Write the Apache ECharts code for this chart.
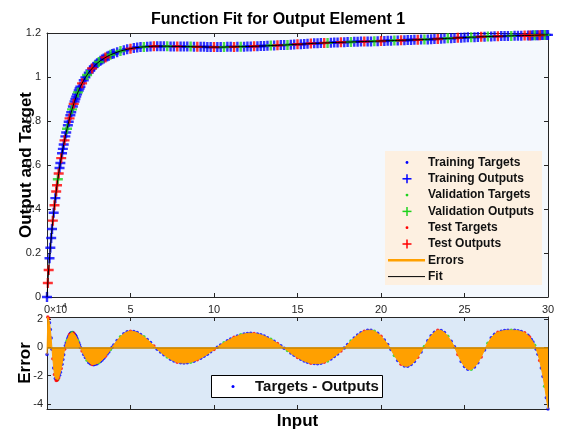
<!DOCTYPE html>
<html>
<head>
<meta charset="utf-8">
<script src="https://cdn.jsdelivr.net/npm/echarts@6/dist/echarts.min.js"></script>
<style>
html, body { margin: 0; padding: 0; background: #ffffff; }
#chart { width: 566px; height: 438px; }
</style>
</head>
<body>
<div id="chart"></div>
<script>
// Sample inputs (finer spacing where the response rises quickly)
const inputs = [
  0,0.05,0.1,0.15,0.2,0.25,0.3,0.35,0.4,0.45,0.5,0.55,0.6,0.65,0.7,0.75,0.8,0.85,0.9,0.95,
  1,1.05,1.1,1.15,1.2,1.25,1.3,1.35,1.4,1.45,1.5,1.55,1.6,1.65,1.7,1.75,1.8,1.85,1.9,1.95,2,
  2.1,2.2,2.3,2.4,2.5,2.6,2.7,2.8,2.9,3,3.1,3.2,3.3,3.4,3.5,3.6,3.7,3.8,3.9,4,
  4.2,4.4,4.6,4.8,5,5.2,5.4,5.6,5.8,6,
  6.2,6.4,6.6,6.8,7,7.2,7.4,7.6,7.8,8,
  8.2,8.4,8.6,8.8,9,9.2,9.4,9.6,9.8,10,
  10.2,10.4,10.6,10.8,11,11.2,11.4,11.6,11.8,12,
  12.2,12.4,12.6,12.8,13,13.2,13.4,13.6,13.8,14,
  14.2,14.4,14.6,14.8,15,15.2,15.4,15.6,15.8,16,
  16.2,16.4,16.6,16.8,17,17.2,17.4,17.6,17.8,18,
  18.2,18.4,18.6,18.8,19,19.2,19.4,19.6,19.8,20,
  20.2,20.4,20.6,20.8,21,21.2,21.4,21.6,21.8,22,
  22.2,22.4,22.6,22.8,23,23.2,23.4,23.6,23.8,24,
  24.2,24.4,24.6,24.8,25,25.2,25.4,25.6,25.8,26,
  26.2,26.4,26.6,26.8,27,27.2,27.4,27.6,27.8,28,
  28.2,28.4,28.6,
  28.8,28.9,29,29.1,29.2,29.3,29.4,29.5,29.6,29.7,29.8,29.9,30
];

// Target values at each input
const targets = [
  0,0.064,0.123,0.176,0.224,0.268,0.309,0.347,0.383,0.417,0.449,0.479,0.508,0.535,0.561,0.586,0.609,0.631,0.653,0.673,
  0.693,0.712,0.730,0.748,0.765,0.781,0.797,0.812,0.826,0.840,0.853,0.866,0.878,0.889,0.900,0.911,0.921,0.930,0.939,0.948,0.956,
  0.971,0.985,0.998,1.009,1.020,1.030,1.039,1.047,1.055,1.062,1.068,1.074,1.079,1.084,1.089,1.093,1.097,1.101,1.104,1.107,
  1.113,1.118,1.122,1.126,1.129,1.132,1.134,1.136,1.137,1.138,
  1.139,1.140,1.140,1.140,1.140,1.140,1.139,1.139,1.139,1.139,
  1.138,1.138,1.138,1.137,1.137,1.137,1.137,1.136,1.136,1.136,
  1.136,1.136,1.136,1.137,1.137,1.137,1.138,1.138,1.138,1.139,
  1.139,1.140,1.140,1.141,1.141,1.142,1.143,1.143,1.144,1.145,
  1.145,1.146,1.147,1.148,1.149,1.149,1.150,1.151,1.152,1.153,
  1.153,1.154,1.155,1.155,1.156,1.157,1.157,1.158,1.158,1.159,
  1.159,1.160,1.160,1.161,1.161,1.162,1.162,1.163,1.163,1.164,
  1.164,1.165,1.165,1.166,1.166,1.167,1.167,1.168,1.168,1.169,
  1.169,1.170,1.171,1.171,1.172,1.173,1.173,1.174,1.175,1.176,
  1.176,1.177,1.178,1.178,1.179,1.180,1.181,1.181,1.182,1.183,
  1.183,1.184,1.184,1.185,1.185,1.186,1.186,1.187,1.187,1.188,
  1.188,1.188,1.189,
  1.189,1.189,1.189,1.190,1.190,1.190,1.190,1.190,1.191,1.191,1.191,1.191,1.191
];

// Targets - Outputs, in units of 1e-4
const errorsE4 = [
  -0.50,2.15,2.04,1.74,1.26,0.66,-0.12,-0.80,-1.45,-1.92,-2.20,-2.33,-2.32,-2.26,-2.14,-1.97,-1.75,-1.48,-1.19,-0.86,
  -0.51,-0.12,0.12,0.31,0.48,0.65,0.79,0.91,0.99,1.04,1.06,1.05,1.01,0.94,0.86,0.75,0.62,0.48,0.33,0.17,0.00,
  -0.25,-0.50,-0.72,-0.91,-1.06,-1.16,-1.21,-1.22,-1.19,-1.15,-1.08,-0.99,-0.89,-0.76,-0.62,-0.47,-0.32,-0.15,0.01,0.18,
  0.49,0.76,0.97,1.10,1.15,1.12,1.05,0.92,0.76,0.56,
  0.34,0.10,-0.12,-0.32,-0.51,-0.68,-0.83,-0.95,-1.04,-1.09,
  -1.10,-1.08,-1.04,-0.97,-0.87,-0.76,-0.62,-0.48,-0.31,-0.15,
  0.02,0.18,0.33,0.47,0.60,0.72,0.81,0.89,0.95,0.99,
  1.00,0.99,0.95,0.89,0.80,0.69,0.57,0.43,0.28,0.12,
  -0.05,-0.22,-0.40,-0.56,-0.71,-0.84,-0.96,-1.04,-1.11,-1.14,
  -1.15,-1.12,-1.05,-0.95,-0.81,-0.64,-0.46,-0.26,-0.04,0.20,
  0.45,0.67,0.87,1.03,1.14,1.21,1.22,1.15,1.00,0.79,
  0.52,0.21,-0.15,-0.57,-0.92,-1.19,-1.32,-1.33,-1.21,-0.99,
  -0.69,-0.33,0.06,0.47,0.82,1.08,1.21,1.20,1.05,0.79,
  0.44,0.04,-0.50,-0.99,-1.35,-1.55,-1.55,-1.39,-1.08,-0.67,
  -0.18,0.30,0.68,0.93,1.07,1.15,1.19,1.21,1.22,1.21,
  1.18,1.12,1.03,
  0.86,0.73,0.56,0.38,0.15,-0.12,-0.48,-0.92,-1.45,-2.05,-2.75,-3.55,-4.35
];

// Data division of each sample: T = training, V = validation, S = test
const subsets =
  "TSSTTTTSTSTSSVSTTSTTTSTTVTTSTTVTSTTTTVTTT" +
  "STTVTTSTTTVTTTSTTVTT" +
  "TVTTSTTTVTTSTTTVTTSTTTVTSTTTTSTTVTTSTVTTTSTTTTVTSTTVTTSTTTSTTTSVTTTSTTVTTTSTTVTSTTTVTSTTTTSTVTTTSTTVTTSTTTVTTSTVTTSTTTVTTTS" +
  "TSTTVTTSTTVTT";

const xTicks = [0, 5, 10, 15, 20, 25, 30];
const outputTicks = [0, 0.2, 0.4, 0.6, 0.8, 1, 1.2];
const errorTicks = [-4, -2, 0, 2];

const FONT = '"Liberation Sans", Arial, Helvetica, sans-serif';
const AXIS_COLOR = '#262626';
const BLUE = '#0000FF', GREEN = '#1ED21E', RED = '#FF0000', ORANGE = '#FFA000';
// Filled plus sign used for the network outputs
const PLUS = 'path://M3.8,0h2.4v3.8h3.8v2.4h-3.8v3.8h-2.4v-3.8h-3.8v-2.4h3.8z';

const n = Math.min(inputs.length, targets.length, errorsE4.length, subsets.length);
// Outputs follow from Error = Targets - Outputs
const outputs = targets.map((t, i) => t - errorsE4[i] * 1e-4);

function pick(code, values) {
  const out = [];
  for (let i = 0; i < n; i++) if (subsets[i] === code) out.push([inputs[i], values[i]]);
  return out;
}
const allPairs = (values) => inputs.slice(0, n).map((x, i) => [x, values[i]]);

const errMin = Math.min(...errorsE4.slice(0, n));
const errMax = Math.max(...errorsE4.slice(0, n));

const tickStyle = { show: true, inside: true, length: 4, lineStyle: { color: AXIS_COLOR, width: 1 } };
const lineStyle = { show: true, onZero: false, lineStyle: { color: AXIS_COLOR, width: 1 } };
const labelStyle = { color: AXIS_COLOR, fontSize: 11, fontFamily: FONT };
const nameStyle = { color: '#000', fontSize: 17, fontWeight: 'bold', fontFamily: FONT };

function xAxisFor(grid, position, showLabels, name) {
  return {
    type: 'value', gridIndex: grid, position: position, min: 0, max: 30, interval: 5,
    axisLine: lineStyle, axisTick: tickStyle, splitLine: { show: false },
    axisLabel: Object.assign({ show: showLabels, margin: 7 }, labelStyle),
    name: name || '', nameLocation: 'middle', nameGap: 4, nameMoveOverlap: false, nameTextStyle: nameStyle
  };
}

const chart = echarts.init(document.getElementById('chart'), null, { renderer: 'canvas' });

const option = {
  animation: false,
  backgroundColor: '#ffffff',
  title: {
    text: 'Function Fit for Output Element 1',
    left: 273, top: 7, textAlign: 'center',
    textStyle: { fontSize: 16, fontWeight: 'bold', color: '#000', fontFamily: FONT }
  },
  grid: [
    { left: 47, top: 33, width: 501, height: 264, show: true, backgroundColor: '#F4F8FD', borderWidth: 0,
      containLabel: false, outerBoundsMode: 'none' },
    { left: 47, top: 317, width: 501, height: 92, show: true, backgroundColor: '#DCE9F7', borderWidth: 0,
      containLabel: false, outerBoundsMode: 'none' }
  ],
  xAxis: [
    xAxisFor(0, 'bottom', true),
    xAxisFor(0, 'top', false),
    xAxisFor(1, 'bottom', false, 'Input'),
    xAxisFor(1, 'top', false)
  ],
  yAxis: [
    {
      type: 'value', gridIndex: 0, position: 'left', min: 0, max: 1.2, interval: 0.2,
      axisLine: lineStyle, axisTick: tickStyle, splitLine: { show: false },
      axisLabel: Object.assign({ margin: 6 }, labelStyle),
      name: 'Output and Target', nameLocation: 'middle', nameGap: 12, nameMoveOverlap: false, nameTextStyle: nameStyle
    },
    {
      type: 'value', gridIndex: 0, position: 'right', min: 0, max: 1.2, interval: 0.2,
      axisLine: lineStyle, axisTick: tickStyle, splitLine: { show: false }, axisLabel: { show: false }
    },
    {
      type: 'value', gridIndex: 1, position: 'left', min: errMin, max: errMax,
      axisLine: lineStyle, splitLine: { show: false },
      axisTick: Object.assign({ customValues: errorTicks }, tickStyle),
      axisLabel: Object.assign({ margin: 4, customValues: errorTicks }, labelStyle),
      name: 'Error', nameLocation: 'middle', nameGap: 13, nameMoveOverlap: false, nameTextStyle: nameStyle
    },
    {
      type: 'value', gridIndex: 1, position: 'right', min: errMin, max: errMax,
      axisLine: lineStyle, splitLine: { show: false },
      axisTick: Object.assign({ customValues: errorTicks }, tickStyle),
      axisLabel: { show: false }
    }
  ],
  series: [
    { name: 'Training Targets', type: 'scatter', xAxisIndex: 0, yAxisIndex: 0, symbol: 'circle', symbolSize: 3,
      itemStyle: { color: BLUE }, data: pick('T', targets) },
    { name: 'Training Outputs', type: 'scatter', xAxisIndex: 0, yAxisIndex: 0, symbol: PLUS, symbolSize: 10,
      itemStyle: { color: BLUE }, data: pick('T', outputs) },
    { name: 'Validation Targets', type: 'scatter', xAxisIndex: 0, yAxisIndex: 0, symbol: 'circle', symbolSize: 3,
      itemStyle: { color: GREEN }, data: pick('V', targets) },
    { name: 'Validation Outputs', type: 'scatter', xAxisIndex: 0, yAxisIndex: 0, symbol: PLUS, symbolSize: 10,
      itemStyle: { color: GREEN }, data: pick('V', outputs) },
    { name: 'Test Targets', type: 'scatter', xAxisIndex: 0, yAxisIndex: 0, symbol: 'circle', symbolSize: 3,
      itemStyle: { color: RED }, data: pick('S', targets) },
    { name: 'Test Outputs', type: 'scatter', xAxisIndex: 0, yAxisIndex: 0, symbol: PLUS, symbolSize: 10,
      itemStyle: { color: RED }, data: pick('S', outputs) },
    { name: 'Fit', type: 'line', xAxisIndex: 0, yAxisIndex: 0, showSymbol: false, symbol: 'none',
      lineStyle: { color: '#000', width: 1 }, data: allPairs(outputs) },

    { name: 'Errors', type: 'line', xAxisIndex: 2, yAxisIndex: 2, showSymbol: false, symbol: 'none',
      lineStyle: { color: ORANGE, width: 1 }, areaStyle: { color: ORANGE, opacity: 1 },
      data: allPairs(errorsE4),
      markLine: { silent: true, symbol: 'none', label: { show: false },
        lineStyle: { color: '#C98400', width: 1.5, type: 'solid' }, data: [{ yAxis: 0 }] } },
    { name: 'Training Errors', type: 'scatter', xAxisIndex: 2, yAxisIndex: 2, symbol: 'circle', symbolSize: 3.5,
      itemStyle: { color: BLUE }, data: pick('T', errorsE4) },
    { name: 'Validation Errors', type: 'scatter', xAxisIndex: 2, yAxisIndex: 2, symbol: 'circle', symbolSize: 3.5,
      itemStyle: { color: GREEN }, data: pick('V', errorsE4) },
    { name: 'Test Errors', type: 'scatter', xAxisIndex: 2, yAxisIndex: 2, symbol: 'circle', symbolSize: 3.5,
      itemStyle: { color: RED }, data: pick('S', errorsE4) }
  ]
};

// Legend boxes drawn as graphics so the marker column and line keys sit like the plot's key
const legendEntries = [
  ['Training Targets', 'dot', BLUE],
  ['Training Outputs', 'plus', BLUE],
  ['Validation Targets', 'dot', GREEN],
  ['Validation Outputs', 'plus', GREEN],
  ['Test Targets', 'dot', RED],
  ['Test Outputs', 'plus', RED],
  ['Errors', 'line', ORANGE],
  ['Fit', 'line', '#000']
];
const keyChildren = [{ type: 'rect', shape: { x: 0, y: 0, width: 157, height: 134 }, style: { fill: '#FDF0E1' } }];
legendEntries.forEach(([label, kind, color], i) => {
  const y = 11.5 + i * 16.3;
  if (kind === 'dot') {
    keyChildren.push({ type: 'circle', shape: { cx: 22, cy: y, r: 1.4 }, style: { fill: color } });
  } else if (kind === 'plus') {
    keyChildren.push({ type: 'line', shape: { x1: 17.5, y1: y, x2: 26.5, y2: y }, style: { stroke: color, lineWidth: 1.5 } });
    keyChildren.push({ type: 'line', shape: { x1: 22, y1: y - 4.5, x2: 22, y2: y + 4.5 }, style: { stroke: color, lineWidth: 1.5 } });
  } else {
    keyChildren.push({ type: 'line', shape: { x1: 3, y1: y, x2: 40, y2: y },
      style: { stroke: color, lineWidth: color === ORANGE ? 2.5 : 1 } });
  }
  keyChildren.push({ type: 'text', x: 43, y: y,
    style: { text: label, fill: '#111', font: 'bold 12px ' + FONT, textVerticalAlign: 'middle', verticalAlign: 'middle' } });
});

option.graphic = [
  { type: 'group', left: 385, top: 151, children: keyChildren },
  {
    type: 'group', left: 211, top: 375,
    children: [
      { type: 'rect', shape: { x: 0.5, y: 0.5, width: 171, height: 22 }, style: { fill: '#ffffff', stroke: '#000', lineWidth: 1 } },
      { type: 'circle', shape: { cx: 22, cy: 11.5, r: 1.5 }, style: { fill: BLUE } },
      { type: 'text', x: 44, y: 11.5,
        style: { text: 'Targets - Outputs', fill: '#111', font: 'bold 15px ' + FONT, textVerticalAlign: 'middle', verticalAlign: 'middle' } }
    ]
  },
  { type: 'text', left: 50, top: 305, style: { text: '\u00d710', fill: AXIS_COLOR, font: '10px ' + FONT } },
  { type: 'text', left: 59.5, top: 302, style: { text: '-4', fill: AXIS_COLOR, font: '8px ' + FONT } }
];

chart.setOption(option);
</script>
</body>
</html>
